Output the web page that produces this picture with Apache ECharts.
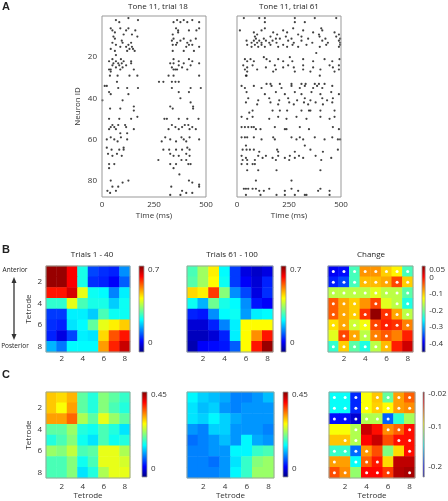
<!DOCTYPE html>
<html>
<head>
<meta charset="utf-8">
<script src="https://cdn.jsdelivr.net/npm/echarts@6/dist/echarts.min.js"></script>
<style>
html, body { margin: 0; padding: 0; background: #fff; }
#main { width: 448px; height: 501px; }
</style>
</head>
<body>
<div id="main"></div>
<script>
const font = "Open Sans";
const jet = ["#000080", "#0000ff", "#0080ff", "#00ffff", "#80ff80", "#ffff00", "#ff8000", "#ff0000", "#800000"];

// tick labels
const tetrodes = ["1", "2", "3", "4", "5", "6", "7", "8"];
const timeTicks = [0, 250, 500];
const neuronTicks = [20, 40, 60, 80];

// raster A: [neuron id, spike times (ms)]
const trial18 = [
    [1, [127]],
    [2, [67, 173, 361, 393, 434]],
    [3, [83, 344, 377, 410, 467]],
    [6, [42, 88, 127, 356, 467]],
    [7, [50, 116, 160, 366, 418, 454]],
    [8, [62, 366]],
    [9, [104, 144, 340]],
    [10, [55, 170]],
    [11, [62, 344, 393, 451]],
    [12, [95, 336, 377, 426]],
    [13, [50, 99, 140, 361, 410]],
    [14, [67, 127, 340, 356, 418, 434]],
    [15, [88, 116, 144, 405, 467]],
    [16, [42, 132, 149]],
    [17, [62, 121, 157, 340, 393, 442]],
    [19, [67]],
    [21, [50, 91, 344, 418]],
    [22, [34, 67, 104, 140, 369, 434]],
    [23, [55, 78, 95, 140, 328, 344, 393, 467]],
    [24, [50, 83, 116, 369, 426]],
    [25, [67, 99, 336, 385]],
    [26, [34, 42, 88, 153, 344, 353, 361, 410]],
    [27, [42]],
    [29, [38, 75, 132, 170, 320, 344, 467]],
    [32, [72, 274, 295, 336, 353, 369]],
    [34, [13, 23]],
    [35, [78, 121, 173, 336, 426, 475]],
    [37, [34, 369, 418]],
    [38, [42, 127]],
    [40, [377]],
    [41, [2, 99]],
    [42, [426]],
    [44, [153, 328, 438]],
    [45, [39, 88, 340, 438]],
    [46, [153]],
    [49, [170]],
    [50, [34, 83, 140, 300, 312, 369, 410, 464]],
    [53, [50, 78, 111, 336, 398, 415]],
    [54, [42, 59, 116, 353, 385, 434]],
    [55, [34, 67, 153, 320, 369, 421, 451]],
    [57, [88, 121]],
    [59, [42, 91, 304, 382, 421]],
    [60, [23, 59, 121, 328, 393, 467]],
    [61, [75, 287, 356, 405]],
    [64, [23, 104, 410]],
    [65, [46, 83, 104, 295, 323, 356, 385, 421]],
    [67, [29, 72, 328, 405]],
    [68, [50, 95, 344, 369, 421]],
    [70, [271, 382, 405]],
    [72, [34, 59, 328, 356, 415, 426]],
    [74, [34, 344]],
    [77, [372]],
    [80, [42, 127, 418]],
    [81, [99, 434]],
    [82, [467]],
    [83, [50, 78, 333, 467]],
    [85, [26, 67, 385]],
    [86, [39, 405, 434]],
    [87, [328, 377]]
];

const trial61 = [
    [1, [33, 107, 134, 278, 374, 477]],
    [3, [134, 278, 326]],
    [6, [134, 270, 405]],
    [7, [14, 118, 222, 318, 410]],
    [8, [81, 174, 241, 366, 469]],
    [9, [97, 193, 294, 394, 490]],
    [10, [86, 161, 235, 310, 397, 477]],
    [11, [91, 129, 187, 206, 262, 342, 425, 496]],
    [12, [46, 81, 107, 139, 171, 246, 310, 410, 490]],
    [13, [70, 97, 118, 155, 190, 273, 362, 437, 496]],
    [14, [49, 86, 118, 161, 222, 267, 334, 429, 496]],
    [15, [70, 102, 134, 198, 241, 294, 398, 490]],
    [18, [381]],
    [20, [129, 254]],
    [21, [38, 65, 142, 198, 318, 421, 493]],
    [22, [49, 81, 158, 222, 266, 366, 458]],
    [24, [30, 75, 182, 246, 318, 445, 490]],
    [25, [49, 139, 222, 273, 366, 461]],
    [26, [38, 97, 187, 318, 401, 490]],
    [27, [49, 174, 278, 353, 469]],
    [29, [43, 46, 398]],
    [33, [142, 161, 206, 262, 310, 330, 374, 394, 421]],
    [34, [22, 81, 166, 262, 326, 385, 458]],
    [35, [38, 118, 214, 302, 366, 410]],
    [37, [46, 187, 278, 358, 453]],
    [38, [134, 230, 310, 401, 490]],
    [40, [54, 155, 246, 326, 410, 461]],
    [41, [102, 203, 289, 353, 433]],
    [42, [43, 161, 251, 322, 378, 458]],
    [43, [97, 198, 273, 342, 413]],
    [46, [75, 171, 206, 241, 310, 346, 353, 401, 469]],
    [47, [59]],
    [49, [22, 75, 198, 286, 401, 469]],
    [50, [49, 155, 238, 334, 445]],
    [54, [22, 38, 54, 70, 81, 182, 302, 461]],
    [55, [91, 113, 230, 238, 346, 490]],
    [59, [22, 38, 49, 81, 174, 262, 302, 374, 458]],
    [60, [118, 182, 286, 318, 421, 485, 496]],
    [63, [43, 326]],
    [65, [27, 46, 62, 81, 193, 353, 485]],
    [66, [107, 198, 278, 413]],
    [68, [22, 102, 139, 198, 254, 298, 378]],
    [69, [43, 123, 171, 230, 278, 318, 453]],
    [70, [27, 49, 86, 187, 251, 405]],
    [72, [22, 49, 75, 86]],
    [75, [49, 102, 190, 401]],
    [80, [91, 262]],
    [84, [33, 43, 54, 75, 91, 155, 262, 401]],
    [85, [107, 129, 230, 294, 390, 445]],
    [87, [43, 113, 190, 230, 278, 326, 334, 445]]
];

// panel B: rows = tetrode 1..8 (anterior -> posterior), cols = tetrode 1..8
const trials1to40 = [
    [0.72, 0.72, 0.64, 0.24, 0.07, 0.05, 0.04, 0.13],
    [0.72, 0.72, 0.64, 0.24, 0.05, 0.04, 0.01, 0.09],
    [0.62, 0.62, 0.67, 0.41, 0.23, 0.22, 0.12, 0.21],
    [0.26, 0.26, 0.41, 0.28, 0.24, 0.24, 0.18, 0.23],
    [0.06, 0.06, 0.21, 0.21, 0.18, 0.28, 0.23, 0.23],
    [0.05, 0.04, 0.20, 0.22, 0.30, 0.41, 0.44, 0.47],
    [0.04, -0.01, 0.07, 0.21, 0.20, 0.46, 0.57, 0.62],
    [0.16, 0.11, 0.22, 0.22, 0.22, 0.51, 0.61, 0.68]
];
const trials61to100 = [
    [0.28, 0.35, 0.44, 0.22, 0.06, -0.01, -0.03, -0.01],
    [0.29, 0.35, 0.43, 0.23, 0.06, 0.01, -0.02, 0.04],
    [0.46, 0.44, 0.59, 0.33, 0.13, 0.07, -0.01, 0.05],
    [0.23, 0.16, 0.31, 0.24, 0.22, 0.13, 0.03, 0.01],
    [0.04, 0.03, 0.13, 0.22, 0.23, 0.14, 0.21, 0.22],
    [-0.02, -0.02, 0.04, 0.12, 0.21, 0.43, 0.43, 0.43],
    [-0.04, -0.04, -0.02, 0.04, 0.21, 0.43, 0.52, 0.62],
    [-0.05, 0.01, 0.02, 0.03, 0.09, 0.43, 0.62, 0.72]
];
const changeB = [
    [-0.39, -0.38, -0.22, -0.07, -0.07, -0.10, -0.12, -0.22],
    [-0.37, -0.35, -0.22, -0.09, -0.09, -0.08, -0.03, -0.10],
    [-0.16, -0.16, -0.16, -0.16, -0.14, -0.16, -0.16, -0.21],
    [-0.04, -0.08, -0.10, -0.07, -0.03, -0.14, -0.16, -0.24],
    [-0.04, -0.08, -0.10, -0.02, 0.06, -0.02, -0.08, -0.16],
    [-0.11, -0.08, -0.15, -0.13, -0.03, -0.01, -0.02, -0.06],
    [-0.14, -0.03, -0.08, -0.16, -0.06, -0.04, -0.06, -0.01],
    [-0.23, -0.10, -0.21, -0.24, -0.16, -0.09, -0.01, 0.03]
];
const signifB = [
    "11111111",
    "11111111",
    "11111111",
    "11101011",
    "11110111",
    "11111111",
    "01111100",
    "11111100"
];

// panel C
const earlyC = [
    [0.30, 0.29, 0.31, 0.19, 0.16, 0.21, 0.19, 0.17],
    [0.30, 0.27, 0.32, 0.19, 0.16, 0.21, 0.18, 0.16],
    [0.32, 0.32, 0.35, 0.23, 0.19, 0.26, 0.22, 0.19],
    [0.19, 0.19, 0.22, 0.16, 0.15, 0.18, 0.16, 0.13],
    [0.16, 0.18, 0.21, 0.15, 0.13, 0.18, 0.15, 0.16],
    [0.22, 0.21, 0.24, 0.18, 0.19, 0.26, 0.26, 0.23],
    [0.18, 0.18, 0.21, 0.15, 0.18, 0.26, 0.26, 0.25],
    [0.18, 0.18, 0.21, 0.13, 0.16, 0.23, 0.26, 0.26]
];
const lateC = [
    [0.14, 0.12, 0.11, 0.10, 0.08, 0.08, 0.09, 0.11],
    [0.13, 0.11, 0.12, 0.09, 0.08, 0.09, 0.09, 0.09],
    [0.13, 0.12, 0.14, 0.12, 0.10, 0.09, 0.09, 0.09],
    [0.09, 0.08, 0.12, 0.12, 0.09, 0.09, 0.09, 0.08],
    [0.07, 0.08, 0.09, 0.11, 0.09, 0.14, 0.10, 0.09],
    [0.08, 0.08, 0.09, 0.09, 0.14, 0.14, 0.17, 0.18],
    [0.08, 0.08, 0.07, 0.09, 0.13, 0.17, 0.21, 0.22],
    [0.08, 0.08, 0.08, 0.09, 0.14, 0.17, 0.22, 0.22]
];
const changeC = [
    [-0.145, -0.145, -0.191, -0.095, -0.082, -0.126, -0.074, -0.061],
    [-0.145, -0.145, -0.191, -0.095, -0.084, -0.093, -0.074, -0.070],
    [-0.196, -0.196, -0.208, -0.110, -0.110, -0.179, -0.137, -0.112],
    [-0.095, -0.095, -0.110, -0.030, -0.044, -0.070, -0.061, -0.044],
    [-0.082, -0.082, -0.110, -0.042, -0.030, -0.057, -0.044, -0.044],
    [-0.135, -0.135, -0.177, -0.072, -0.057, -0.120, -0.086, -0.044],
    [-0.074, -0.074, -0.145, -0.061, -0.046, -0.086, -0.028, -0.028],
    [-0.057, -0.070, -0.116, -0.042, -0.042, -0.053, -0.026, -0.023]
];
const signifC = [
    "11101111",
    "11111111",
    "11111100",
    "00100111",
    "01100011",
    "11110001",
    "10111000",
    "11011101"
];

// colour bar ranges and labels
const rangeB = [-0.09, 0.74];
const ticksB = [0, 0.7];
const rangeChangeB = [-0.45, 0.07];
const ticksChangeB = [0.05, 0, -0.1, -0.2, -0.3, -0.4];
const rangeC = [-0.05, 0.465];
const ticksC = [0, 0.45];
const rangeChangeC = [-0.225, -0.015];
const ticksChangeC = [-0.02, -0.1, -0.2];

const txt = { fontFamily: font, fontSize: 8, color: "#333" };

function rasterPoints(rows) {
    const pts = [];
    rows.forEach(([n, times]) => times.forEach((t) => pts.push([t, n])));
    return pts;
}

function cells(matrix) {
    const out = [];
    matrix.forEach((row, r) => row.forEach((v, c) => out.push([c, r, v])));
    return out;
}

function marks(mask) {
    const out = [];
    mask.forEach((row, r) => row.split("").forEach((s, c) => { if (s === "1") out.push([c, r]); }));
    return out;
}

const grids = [];
const xAxes = [];
const yAxes = [];
const series = [];
const visualMaps = [];

function addRaster(box, rows, leftLabels) {
    const g = grids.length;
    grids.push({ left: box[0], top: box[1], width: box[2], height: box[3], show: true, borderColor: "#999", borderWidth: 1, z: 3 });
    xAxes.push({
        type: "value", gridIndex: g, min: 0, max: 500,
        axisLine: { show: false }, axisTick: { show: false }, splitLine: { show: false },
        axisLabel: { ...txt, customValues: timeTicks, margin: 4 },
        name: "Time (ms)", nameLocation: "middle", nameGap: 15, nameTextStyle: txt
    });
    yAxes.push({
        type: "value", gridIndex: g, min: 0, max: 88, inverse: true,
        axisLine: { show: false }, axisTick: { show: false }, splitLine: { show: false },
        axisLabel: { ...txt, show: leftLabels, customValues: neuronTicks, margin: 5 },
        name: leftLabels ? "Neuron ID" : "", nameLocation: "middle", nameGap: 20, nameTextStyle: txt
    });
    series.push({
        type: "scatter", xAxisIndex: g, yAxisIndex: g, data: rasterPoints(rows),
        symbol: "circle", symbolSize: 2.2, itemStyle: { color: "#111" }, silent: true
    });
}

function addHeatmap(box, cbBox, matrix, range, ticks, opts) {
    const g = grids.length;
    grids.push({ left: box[0], top: box[1], width: box[2], height: box[3], show: true, borderColor: "#9aa69a", borderWidth: 1, z: 3 });
    xAxes.push({
        type: "category", gridIndex: g, data: tetrodes,
        axisLine: { show: false }, axisTick: { show: false }, splitLine: { show: false },
        axisLabel: { ...txt, interval: (i) => i % 2 === 1, margin: opts.xMargin },
        name: opts.xName || "", nameLocation: "middle", nameGap: 13, nameTextStyle: txt
    });
    yAxes.push({
        type: "category", gridIndex: g, data: tetrodes, inverse: true,
        axisLine: { show: false }, axisTick: { show: false }, splitLine: { show: false },
        axisLabel: { ...txt, show: !!opts.yLabels, interval: (i) => i % 2 === 1, margin: 4 },
        name: opts.yLabels ? "Tetrode" : "", nameLocation: "middle", nameGap: 13, nameTextStyle: txt
    });
    visualMaps.push({
        type: "continuous", show: false, seriesIndex: series.length, dimension: 2,
        min: range[0], max: range[1], inRange: { color: jet }
    });
    series.push({ type: "heatmap", xAxisIndex: g, yAxisIndex: g, data: cells(matrix), silent: true });
    if (opts.signif) {
        series.push({
            type: "scatter", xAxisIndex: g, yAxisIndex: g, data: marks(opts.signif), z: 4,
            symbol: "circle", symbolSize: 3, itemStyle: { color: "#fff", opacity: 0.95 }, silent: true
        });
    }

    // colour bar
    const c = grids.length;
    grids.push({ left: cbBox[0], top: cbBox[1], width: cbBox[2], height: cbBox[3] });
    xAxes.push({ type: "category", gridIndex: c, data: ["bar"], show: false });
    yAxes.push({
        type: "value", gridIndex: c, min: range[0], max: range[1], position: "right",
        axisLine: { show: false }, axisTick: { show: false }, splitLine: { show: false },
        axisLabel: { ...txt, customValues: ticks, margin: 4, formatter: (v) => String(v) }
    });
    series.push({
        type: "custom", xAxisIndex: c, yAxisIndex: c, data: [[0, range[0], range[1]]], silent: true,
        renderItem: (params, api) => {
            const top = api.coord([api.value(0), api.value(2)]);
            const bottom = api.coord([api.value(0), api.value(1)]);
            const w = api.size([1, 0])[0];
            return {
                type: "rect",
                shape: { x: top[0] - w / 2, y: top[1], width: w, height: bottom[1] - top[1] },
                style: {
                    stroke: "#999", lineWidth: 0.8,
                    fill: new echarts.graphic.LinearGradient(0, 0, 0, 1,
                        jet.slice().reverse().map((color, i) => ({ offset: i / (jet.length - 1), color })))
                }
            };
        }
    });
}

addRaster([102, 16, 104, 181], trial18, true);
addRaster([237, 16, 104, 181], trial61, false);

addHeatmap([46, 266, 84, 86], [139, 266, 5, 86], trials1to40, rangeB, ticksB, { yLabels: true, xMargin: 3 });
addHeatmap([187, 266, 86, 86], [281, 266, 5, 86], trials61to100, rangeB, ticksB, { xMargin: 3 });
addHeatmap([328, 266, 85, 86], [422, 266, 5, 86], changeB, rangeChangeB, ticksChangeB, { xMargin: 3, signif: signifB });

addHeatmap([46, 392, 84, 86], [142, 392, 5, 85], earlyC, rangeC, ticksC, { yLabels: true, xMargin: 5, xName: "Tetrode" });
addHeatmap([187, 392, 87, 86], [283, 392, 5, 85], lateC, rangeC, ticksC, { xMargin: 5, xName: "Tetrode" });
addHeatmap([329, 392, 86, 86], [423, 392, 5, 85], changeC, rangeChangeC, ticksChangeC, { xMargin: 5, xName: "Tetrode", signif: signifC });

function label(text, x, y, size, weight) {
    return {
        type: "text", x: x, y: y, silent: true,
        style: { text: text, fill: "#222", font: (weight || "normal") + " " + size + "px " + (weight ? "'Liberation Sans'" : "'" + font + "'"), align: "center", verticalAlign: "middle" }
    };
}

const graphics = [
    label("A", 6, 7, 11, "bold"),
    label("B", 6, 250, 11, "bold"),
    label("C", 6, 375, 11, "bold"),
    label("Tone 11, trial 18", 158, 7, 8),
    label("Tone 11, trial 61", 289, 7, 8),
    label("Trials 1 - 40", 92, 255, 8),
    label("Trials 61 - 100", 232, 255, 8),
    label("Change", 371, 255, 8),
    label("Anterior", 15, 270, 6.5),
    label("Posterior", 15, 346, 6.5),
    { type: "line", silent: true, shape: { x1: 14, y1: 281, x2: 14, y2: 336 }, style: { stroke: "#333", lineWidth: 1.3 } },
    { type: "polygon", silent: true, shape: { points: [[14, 277], [11.5, 283], [16.5, 283]] }, style: { fill: "#333" } },
    { type: "polygon", silent: true, shape: { points: [[14, 340], [11.5, 334], [16.5, 334]] }, style: { fill: "#333" } }
];

const chart = echarts.init(document.getElementById("main"));
chart.setOption({
    animation: false,
    backgroundColor: "#fff",
    textStyle: { fontFamily: font },
    grid: grids,
    xAxis: xAxes,
    yAxis: yAxes,
    visualMap: visualMaps,
    series: series,
    graphic: graphics
});
</script>
</body>
</html>
